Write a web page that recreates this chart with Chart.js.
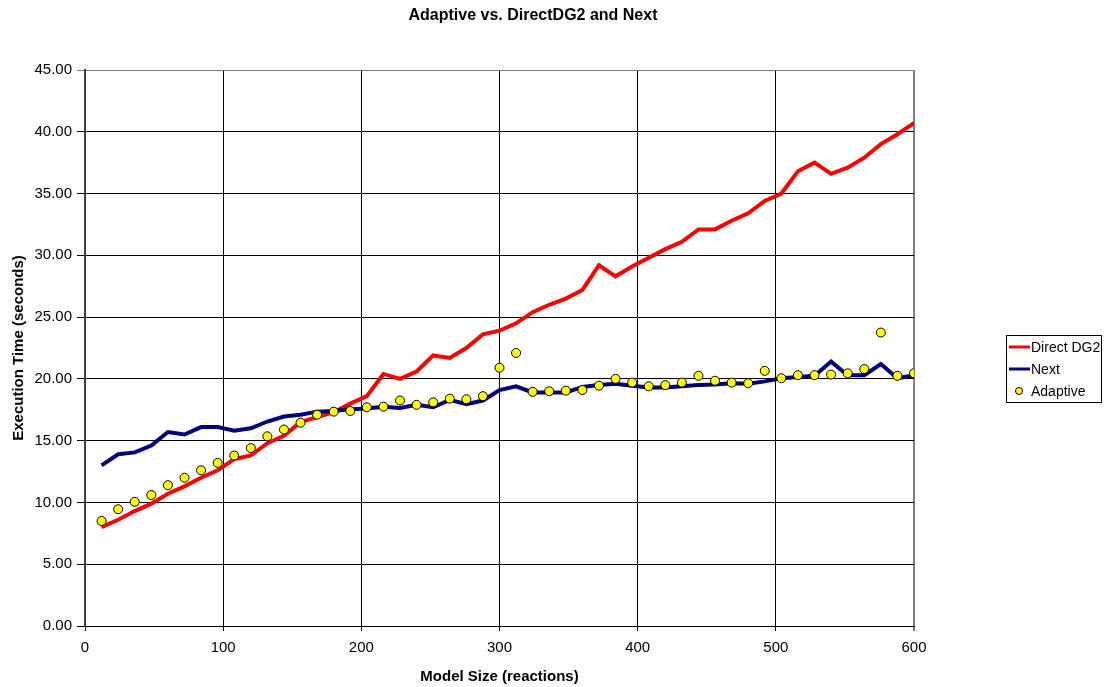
<!DOCTYPE html>
<html>
<head>
<meta charset="utf-8">
<script src="https://cdn.jsdelivr.net/npm/chart.js@4.4.1/dist/chart.umd.min.js"></script>
<style>
    html, body { margin: 0; padding: 0; background: #fff; }
    #wrap { width: 1106px; height: 687px; }
</style>
</head>
<body>
<div id="wrap"><canvas id="timeChart" width="1106" height="687"></canvas></div>
<script>
// model sizes (reactions)
const modelSize = [12, 24, 36, 48, 60, 72, 84, 96, 108, 120,
    132, 144, 156, 168, 180, 192, 204, 216, 228, 240,
    252, 264, 276, 288, 300, 312, 324, 336, 348, 360,
    372, 384, 396, 408, 420, 432, 444, 456, 468, 480,
    492, 504, 516, 528, 540, 552, 564, 576, 588, 600];

// execution times (seconds)
const directDG2 = [8.0, 8.6, 9.3, 9.9, 10.7, 11.3, 12.0, 12.6, 13.5, 13.8,
    14.8, 15.4, 16.5, 16.9, 17.3, 18.0, 18.6, 20.4, 20.0, 20.6,
    21.9, 21.7, 22.5, 23.6, 23.9, 24.5, 25.4, 26.0, 26.5, 27.2,
    29.2, 28.3, 29.1, 29.8, 30.5, 31.1, 32.1, 32.1, 32.8, 33.4,
    34.4, 35.0, 36.8, 37.5, 36.6, 37.1, 37.9, 39.0, 39.8, 40.7];

const next = [13.0, 13.9, 14.05, 14.6, 15.7, 15.5, 16.1, 16.1, 15.8, 16.0,
    16.55, 16.95, 17.1, 17.35, 17.4, 17.55, 17.6, 17.75, 17.65, 17.9,
    17.7, 18.3, 17.95, 18.25, 19.1, 19.4, 18.9, 18.9, 18.9, 19.35,
    19.5, 19.6, 19.45, 19.3, 19.3, 19.4, 19.5, 19.55, 19.65, 19.6,
    19.8, 20.05, 20.15, 20.25, 21.4, 20.3, 20.3, 21.2, 20.05, 20.3];

const adaptive = [8.5, 9.45, 10.05, 10.6, 11.4, 12.0, 12.6, 13.2, 13.8, 14.4,
    15.35, 15.9, 16.45, 17.1, 17.35, 17.4, 17.7, 17.75, 18.25, 17.9,
    18.1, 18.4, 18.35, 18.6, 20.9, 22.1, 18.95, 19.0, 19.05, 19.1,
    19.45, 20.0, 19.7, 19.4, 19.5, 19.7, 20.25, 19.85, 19.7, 19.65,
    20.65, 20.05, 20.3, 20.3, 20.35, 20.45, 20.8, 23.75, 20.25, 20.45];

const seriesNames = ['Direct DG2', 'Next', 'Adaptive'];
const chartTitle = 'Adaptive vs. DirectDG2 and Next';
const xTitle = 'Model Size (reactions)';
const yTitle = 'Execution Time (seconds)';

const FONT = "'Liberation Sans', Arial, sans-serif";

function toPoints(values) {
    return modelSize.map((x, i) => ({ x: x, y: values[i] }));
}

// title + boxed legend drawn by hand so they sit where the original has them
const decorations = {
    id: 'decorations',
    afterDraw(chart) {
        const ctx = chart.ctx;
        ctx.save();
        ctx.fillStyle = '#000';
        ctx.font = 'bold 16px ' + FONT;
        ctx.textAlign = 'center';
        ctx.textBaseline = 'middle';
        ctx.fillText(chartTitle, 533, 16);

        const box = { x: 1006, y: 335, w: 95, h: 67 };
        ctx.strokeStyle = '#000';
        ctx.lineWidth = 1;
        ctx.strokeRect(box.x + 0.5, box.y + 0.5, box.w, box.h);

        ctx.font = '14px ' + FONT;
        ctx.textAlign = 'left';
        chart.data.datasets.forEach((ds, i) => {
            const cy = box.y + 12 + i * 22;
            if (ds.showLine === false) {
                ctx.beginPath();
                ctx.arc(box.x + 13, cy, 3.5, 0, Math.PI * 2);
                ctx.fillStyle = ds.pointBackgroundColor;
                ctx.fill();
                ctx.strokeStyle = ds.pointBorderColor;
                ctx.lineWidth = 1;
                ctx.stroke();
            } else {
                ctx.beginPath();
                ctx.moveTo(box.x + 3, cy);
                ctx.lineTo(box.x + 24, cy);
                ctx.strokeStyle = ds.borderColor;
                ctx.lineWidth = 3;
                ctx.stroke();
            }
            ctx.fillStyle = '#000';
            ctx.fillText(ds.label, box.x + 25, cy + 1);
        });
        ctx.restore();
    }
};

document.addEventListener('DOMContentLoaded', function () {
    const ctx = document.getElementById('timeChart').getContext('2d');

    new Chart(ctx, {
        type: 'line',
        data: {
            datasets: [{
                label: seriesNames[0],
                data: toPoints(directDG2),
                borderColor: '#ff0000',
                borderWidth: 4,
                pointRadius: 0,
                tension: 0,
                order: 3
            }, {
                label: seriesNames[1],
                data: toPoints(next),
                borderColor: '#000080',
                borderWidth: 4,
                pointRadius: 0,
                tension: 0,
                order: 2
            }, {
                label: seriesNames[2],
                data: toPoints(adaptive),
                showLine: false,
                pointRadius: 4.5,
                pointBackgroundColor: '#ffff00',
                pointBorderColor: '#000',
                pointBorderWidth: 1,
                order: 1
            }]
        },
        options: {
            responsive: false,
            animation: false,
            layout: { padding: { top: 70, right: 192, left: 0, bottom: 0 } },
            plugins: {
                legend: { display: false },
                title: { display: false },
                tooltip: { enabled: false }
            },
            scales: {
                x: {
                    type: 'linear',
                    min: 0,
                    max: 600,
                    ticks: {
                        stepSize: 100,
                        color: '#000',
                        padding: 8,
                        maxRotation: 0,
                        font: { family: FONT, size: 15 }
                    },
                    grid: {
                        color: c => (c.tick && c.tick.value === 600) ? '#808080' : '#000',
                        lineWidth: c => (c.tick && c.tick.value === 600) ? 2 : 1,
                        tickLength: 5
                    },
                    border: { color: '#000', width: 1 },
                    title: {
                        display: true,
                        text: xTitle,
                        color: '#000',
                        font: { family: FONT, size: 15, weight: 'bold' },
                        padding: { top: 0, bottom: 1 }
                    },
                    afterFit: scale => { scale.height = 61; }
                },
                y: {
                    min: 0,
                    max: 45,
                    ticks: {
                        stepSize: 5,
                        color: '#000',
                        padding: 5,
                        font: { family: FONT, size: 15 },
                        callback: v => v.toFixed(2)
                    },
                    grid: {
                        color: c => (c.tick && c.tick.value === 45) ? '#808080' : '#000',
                        lineWidth: 1,
                        tickLength: 8
                    },
                    border: { color: '#404040', width: 2 },
                    title: {
                        display: true,
                        text: yTitle,
                        color: '#000',
                        font: { family: FONT, size: 15, weight: 'bold' },
                        padding: { top: 10, bottom: 0 }
                    },
                    afterFit: scale => { scale.width = 85; }
                }
            }
        },
        plugins: [decorations]
    });
});
</script>
</body>
</html>
